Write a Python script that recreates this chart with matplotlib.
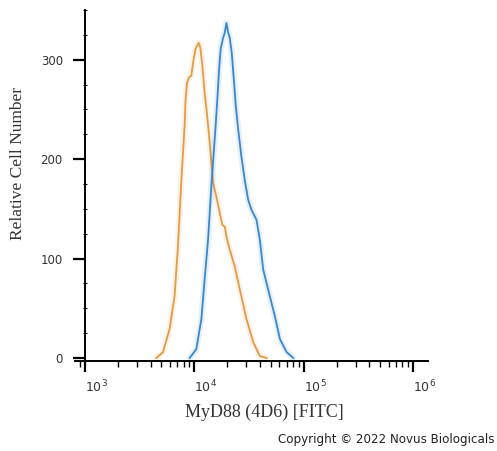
import matplotlib
matplotlib.use("Agg")
from matplotlib import pyplot as plt
from matplotlib.ticker import LogLocator, NullFormatter, MultipleLocator

# isotype control (orange) - FITC intensity and relative cell number
control_x = [4480, 5170, 5930, 6590, 7080, 7610, 8150, 8320, 8570, 8940,
             9380, 9860, 10280, 10950, 11350, 11840, 12420, 13080, 13640,
             14330, 14850, 15920, 17070, 18060, 18970, 19660, 21090, 23440,
             26060, 30010, 34570, 39740, 45800]
control_y = [0, 6, 29, 62, 112, 179, 234, 261, 277, 282,
             284, 301, 311, 317, 312, 294, 267, 244, 224,
             196, 176, 162, 146, 134, 132, 122, 109, 92,
             69, 39, 16, 2, 0]

# MyD88 (4D6) stained (blue)
myd88_x = [9060, 10430, 11590, 12420, 13350, 14330, 15670, 16250, 16860,
           17420, 18330, 18970, 19660, 20420, 21090, 21980, 22950, 23930,
           25180, 26990, 28910, 31090, 33340, 37040, 39740, 42660, 49090,
           54580, 60670, 69810, 80530]
myd88_y = [0, 9, 39, 79, 119, 174, 234, 261, 291,
           311, 322, 327, 337, 327, 322, 307, 281, 254,
           230, 202, 179, 159, 149, 139, 119, 89, 62,
           42, 19, 6, 0]

y_ticks = [0, 100, 200, 300]

ORANGE = "#E39C45"
BLUE = "#3A87CC"

fig = plt.figure(figsize=(4.97, 4.51), dpi=100)
ax = fig.add_axes([75 / 497, 90 / 451, 353 / 497, 351 / 451])

# faint halo under each line, like the blurred original
for xs, ys, col in [(control_x, control_y, ORANGE), (myd88_x, myd88_y, BLUE)]:
    ax.plot(xs, ys, color=col, linewidth=4.5, alpha=0.12, solid_capstyle="round")
    ax.plot(xs, ys, color=col, linewidth=1.3)

ax.set_xscale("log")
ax.set_xlim(10 ** 2.908, 10 ** 6.138)
ax.set_ylim(-3, 350)

# axis styling
ax.spines["top"].set_visible(False)
ax.spines["right"].set_visible(False)
ax.spines["left"].set_position(("data", 1000))
ax.spines["left"].set_linewidth(1.4)
ax.spines["bottom"].set_linewidth(1.4)

ax.xaxis.set_major_locator(LogLocator(base=10, numticks=10))
ax.xaxis.set_minor_locator(LogLocator(base=10, subs=range(2, 10), numticks=20))
ax.xaxis.set_minor_formatter(NullFormatter())
ax.set_yticks(y_ticks)
ax.yaxis.set_minor_locator(MultipleLocator(25))

ax.tick_params(axis="x", which="major", direction="out", length=8, width=1.6,
               labelsize=9, pad=5)
ax.tick_params(axis="x", which="minor", direction="out", length=4, width=1.0)
ax.tick_params(axis="y", which="major", direction="out", length=9, width=1.6,
               labelsize=8.5, pad=7)
ax.tick_params(axis="y", which="minor", direction="inout", length=3, width=0.8)
for lab in ax.get_xticklabels():
    lab.set_ha("left")
    lab.set_color("#333333")
for lab in ax.get_yticklabels():
    lab.set_color("#333333")

fig.text(18 / 497, 1 - 164 / 451, "Relative Cell Number", rotation=90,
         ha="center", va="center", family="Liberation Serif", fontsize=12.5,
         color="#333333")
fig.text(264 / 497, 1 - 412 / 451, "MyD88 (4D6) [FITC]", ha="center",
         va="center", family="Liberation Serif", fontsize=13, color="#333333")
fig.text(278 / 497, 1 - 439 / 451, "Copyright \u00a9 2022 Novus Biologicals",
         ha="left", va="center", fontsize=8.6, color="#222222")

fig.savefig("out.png", dpi=100)
